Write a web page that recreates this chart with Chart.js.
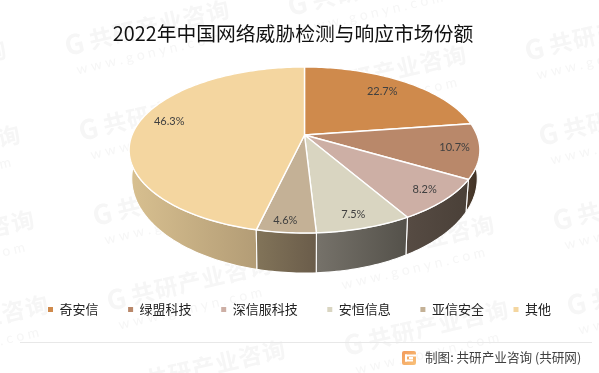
<!DOCTYPE html>
<html lang="zh">
<head>
<meta charset="utf-8">
<style>html,body{margin:0;padding:0;background:#fff}canvas{display:block}</style>
<script src="https://cdn.jsdelivr.net/npm/chart.js@4"></script>
</head>
<body>
<canvas id="c" width="599" height="373"></canvas>
<script>
const titleText = '2022年中国网络威胁检测与响应市场份额';
const categories = ['奇安信', '绿盟科技', '深信服科技', '安恒信息', '亚信安全', '其他'];
const shares = [22.7, 10.7, 8.2, 7.5, 4.6, 46.3];

const topColors = ['#CF8A4C', '#B9886A', '#CDAFA5', '#D9D5C1', '#C4B196', '#F4D6A0'];
const wallFrom = ['#8a5c32', '#4a3a2c', '#564b43', '#76726a', '#827459', '#d8c090'];
const wallTo = ['#6a4626', '#3e3024', '#4a4038', '#54514a', '#6a5c4a', '#a58f6c'];
const labelRadial = [0.75, 0.86, 0.875, 0.84, 0.85, 0.815];
const labelNudgeX = [1, 0, 0, 0, -4, 2];
const labelNudgeY = [-2.2, -1.5, -1, 3.4, 5, -6.2];

const sourceText = '制图: 共研产业咨询 (共研网)';
const markText = '共研产业咨询';
const markSub = 'w w w . g o n y n . c o m';

// projective view of the pie disc
const view = {cx: 304.5, cy: 135, rx: 172.5, ry: 80.3, k: 0.1807, botY: 161.5, botRx: 0.985, botRy: 1.138};
function topPt(a, r = 1) {
  const u = Math.cos(a) * r, v = Math.sin(a) * r, w = 1 - view.k * v;
  return [view.cx + view.rx * u / w, view.cy + view.ry * v / w];
}
function botPt(a) {
  const u = Math.cos(a), v = Math.sin(a), w = 1 - view.k * v;
  return [view.cx + view.botRx * view.rx * u / w, view.botY + view.botRy * view.ry * v / w];
}
function angles(e) {
  const out = [], n = Math.max(2, Math.ceil((e.endAngle - e.startAngle) / 0.02));
  for (let i = 0; i <= n; i++) out.push(e.startAngle + (e.endAngle - e.startAngle) * i / n);
  return out;
}
function drawWatermarks(ctx) {
  ctx.save();
  ctx.fillStyle = '#f6f6f6';
  ctx.textBaseline = 'middle';
  ctx.textAlign = 'left';
  for (let i = -2; i <= 3; i++) {
    for (let j = -2; j <= 6; j++) {
      const x = 65 + 223 * i + 14 * j, y = 46 - 40 * i + 85 * j;
      if (x < -190 || x > 610 || y < -30 || y > 420) continue;
      ctx.save();
      ctx.translate(x, y);
      ctx.rotate(-13 * Math.PI / 180);
      ctx.font = 'bold 27px "Noto Sans CJK SC"';
      ctx.fillText('G', 0, 0);
      ctx.font = 'bold 23px "Noto Sans CJK SC"';
      ctx.letterSpacing = '1px';
      ctx.fillText(markText, 25, 0);
      ctx.letterSpacing = '0px';
      ctx.font = '14px "Lato"';
      ctx.fillText(markSub, 6, 26);
      ctx.restore();
    }
  }
  ctx.restore();
}
function drawFooter(chart) {
  const ctx = chart.ctx;
  ctx.save();
  ctx.strokeStyle = '#e8e8e8';
  ctx.lineWidth = 1;
  ctx.beginPath();
  ctx.moveTo(20, 342.5);
  ctx.lineTo(592, 342.5);
  ctx.stroke();
  const g = ctx.createLinearGradient(402, 351, 416, 365);
  g.addColorStop(0, '#f29a5a');
  g.addColorStop(1, '#f9c27a');
  ctx.fillStyle = g;
  ctx.beginPath();
  ctx.roundRect(402, 351, 14, 14, 2);
  ctx.fill();
  ctx.fillStyle = '#fff';
  ctx.fillRect(405, 354.5, 11, 2);
  ctx.fillRect(405, 354.5, 2, 7);
  ctx.fillRect(405, 359.5, 8, 2);
  ctx.fillRect(409, 357, 4, 2);
  ctx.fillStyle = '#404040';
  ctx.font = '12.6px "Noto Sans CJK SC"';
  ctx.textAlign = 'left';
  ctx.textBaseline = 'middle';
  ctx.fillText(sourceText, 425, 357);
  ctx.restore();
}
const pie3d = {
  id: 'pie3d',
  afterLayout(chart) { chart.titleBlock.right -= 13; },
  beforeDraw(chart) {
    const ctx = chart.ctx;
    ctx.save();
    ctx.fillStyle = '#fff';
    ctx.fillRect(0, 0, chart.width, chart.height);
    ctx.restore();
    drawWatermarks(ctx);
  },
  beforeDatasetDraw(chart, args) {
    const ctx = chart.ctx, arcs = args.meta.data;
    ctx.save();
    ctx.lineJoin = 'round';
    ctx.strokeStyle = '#fff';
    // side walls, far ones first
    const order = arcs.map((e, i) => i).sort((p, q) => {
      const m = e => Math.sin((e.startAngle + e.endAngle) / 2);
      return m(arcs[p]) - m(arcs[q]);
    });
    order.forEach(i => {
      const e = arcs[i], as = angles(e);
      const xs = as.map(a => topPt(a)[0]);
      const g = ctx.createLinearGradient(Math.min(...xs), 0, Math.max(...xs), 0);
      g.addColorStop(0, wallFrom[i]);
      g.addColorStop(1, wallTo[i]);
      ctx.fillStyle = g;
      ctx.lineWidth = 1.1;
      ctx.beginPath();
      as.forEach((a, n) => { const p = topPt(a); n ? ctx.lineTo(p[0], p[1]) : ctx.moveTo(p[0], p[1]); });
      as.slice().reverse().forEach(a => { const p = botPt(a); ctx.lineTo(p[0], p[1]); });
      ctx.closePath();
      ctx.fill();
      ctx.stroke();
    });
    // top faces
    arcs.forEach((e, i) => {
      ctx.fillStyle = topColors[i];
      ctx.lineWidth = 1.4;
      ctx.beginPath();
      ctx.moveTo(view.cx, view.cy);
      angles(e).forEach(a => { const p = topPt(a); ctx.lineTo(p[0], p[1]); });
      ctx.closePath();
      ctx.fill();
      ctx.stroke();
    });
    // value labels
    ctx.fillStyle = '#404040';
    ctx.font = '11px "Lato"';
    ctx.textAlign = 'center';
    ctx.textBaseline = 'middle';
    arcs.forEach((e, i) => {
      const p = topPt((e.startAngle + e.endAngle) / 2, labelRadial[i]);
      ctx.fillText(shares[i].toFixed(1) + '%', p[0] + labelNudgeX[i], p[1] + labelNudgeY[i]);
    });
    ctx.restore();
    return false;
  },
  afterDraw(chart) { drawFooter(chart); }
};

new Chart(document.getElementById('c'), {
  type: 'pie',
  data: {
    labels: categories,
    datasets: [{data: shares, backgroundColor: topColors, borderWidth: 0}]
  },
  options: {
    responsive: false,
    animation: false,
    layout: {padding: {bottom: 47}},
    plugins: {
      tooltip: {enabled: false},
      title: {
        display: true,
        text: titleText,
        color: '#111',
        font: {family: '"Noto Sans CJK SC"', size: 19.8, weight: 'normal'},
        padding: {top: 21.5, bottom: 10}
      },
      legend: {
        display: true,
        position: 'bottom',
        labels: {
          boxWidth: 5,
          boxHeight: 5,
          padding: 29.6,
          color: '#222',
          font: {family: '"Noto Sans CJK SC"', size: 13}
        }
      }
    }
  },
  plugins: [pie3d]
});
</script>
</body>
</html>
